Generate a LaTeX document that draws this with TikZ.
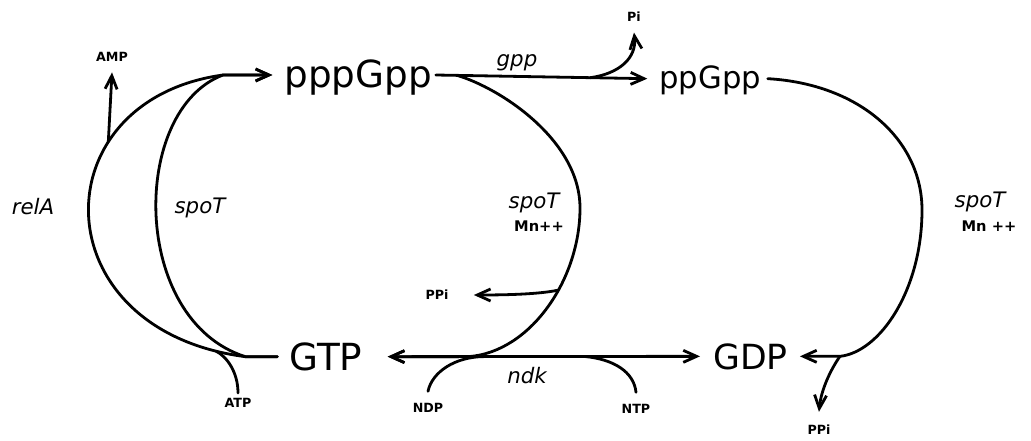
\documentclass[tikz,border=0pt]{standalone}
\usepackage{fontspec}
\setmainfont{DejaVu Sans}
\usetikzlibrary{arrows.meta}

\begin{document}
\begin{tikzpicture}[x=0.75pt, y=-0.75pt, line width=2.1pt, line cap=round, line join=round,
  barb/.tip={Straight Barb[length=10pt,width=9pt]},
  flow/.style={-barb},
  mol/.style={anchor=base west, inner sep=0pt, text depth=0pt},
  enz/.style={inner sep=0pt, font=\fontsize{16}{18}\selectfont\itshape},
  ion/.style={inner sep=0pt, font=\fontsize{11}{12}\selectfont\bfseries},
  side/.style={inner sep=0pt, font=\fontsize{9.5}{10}\selectfont\bfseries}]
\useasboundingbox (0,0) rectangle (1031,440);

% nucleotides (text height sets where west/east anchors sit)
\node[mol, text height=18pt, font=\fontsize{28}{30}\selectfont] (pppgpp) at (283,87) {pppGpp};
\node[mol, text height=14pt, font=\fontsize{23}{26}\selectfont] (ppgpp) at (658,88) {ppGpp};
\node[mol, text height=20pt, font=\fontsize{28}{30}\selectfont] (gtp) at (288,370) {GTP};
\node[mol, text height=19pt, font=\fontsize{26}{28}\selectfont] (gdp) at (712,369) {GDP};

% side products and co-substrates
\node[side] (amp) at (112,57) {AMP};
\node[side] (pi) at (634,17) {Pi};
\node[side] (ppia) at (437,295) {PPi};
\node[side] (atp) at (238,403) {ATP};
\node[side] (ndp) at (428,408) {NDP};
\node[side] (ntp) at (636,409) {NTP};
\node[side] (ppib) at (819,430) {PPi};

% enzyme labels
\node[enz] (rela) at (33,207) {relA};
\node[enz] (spota) at (200,208) {spoT};
\node[enz] (spotb) at (534,203) {spoT};
\node[ion] (mna) at (539,226) {Mn++};
\node[enz] (spotc) at (980,202) {spoT};
\node[ion] (mnb) at (989,226) {Mn ++};
\node[enz] (gppl) at (517,63) {gpp};
\node[enz] (ndkl) at (527,376) {ndk};

% gpp: pppGpp -> ppGpp
\draw[flow] ([xshift=2pt]pppgpp.east) -- coordinate[pos=0.1] (gppfork)
  coordinate[pos=0.73] (pifork) ([xshift=-8pt]ppgpp.west);
\draw[flow] (pifork) .. controls ([xshift=22pt,yshift=3pt]pifork) and
  ([xshift=35pt,yshift=15pt]pifork) .. ([yshift=-7pt]pi.south);

% ndk: GTP <-> GDP
\draw[barb-barb] ([xshift=18pt]gtp.east) -- coordinate[pos=0.26] (merge)
  coordinate[pos=0.31] (ndpfork) coordinate[pos=0.63] (ntpfork) ([xshift=-9pt]gdp.west);
\draw (ndpfork) .. controls ([xshift=-22pt]ndpfork) and (432,372) .. ([yshift=8pt]ndp.north);
\draw (ntpfork) .. controls ([xshift=22pt,yshift=-2pt]ntpfork) and (634,372) .. ([yshift=8pt]ntp.north);

% relA: GTP -> pppGpp
\draw[flow] ([xshift=-8pt]gtp.west) -- ([xshift=-32pt]gtp.west)
  .. controls (40,330) and (40,100) .. coordinate[pos=0.05] (atpfork)
  coordinate[pos=0.7] (ampfork) ([xshift=-45pt]pppgpp.west) -- ([xshift=-8pt]pppgpp.west);
% spoT: GTP -> pppGpp
\draw[flow] ([xshift=-8pt]gtp.west) -- ([xshift=-32pt]gtp.west)
  .. controls (130,320) and (130,110) .. ([xshift=-45pt]pppgpp.west) -- ([xshift=-8pt]pppgpp.west);
\draw[flow] (ampfork) -- ([yshift=-7pt]amp.south);
\draw (atpfork) .. controls ([xshift=8pt,yshift=-4pt]atpfork) and (238,372) .. ([yshift=3pt]atp.north);

% spoT (Mn++): pppGpp -> GTP
\draw[flow] (gppfork) .. controls (500,88) and (580,140) .. (580,208)
  .. controls (580,280) and (530,352) .. coordinate[pos=0.4] (ppifork) (merge)
  -- ([xshift=18pt]gtp.east);
\draw[flow] (ppifork) .. controls (540,294) and (510,295) .. ([xshift=18pt]ppia.east);

% spoT (Mn++): ppGpp -> GDP
\draw[flow] ([xshift=4pt]ppgpp.east) .. controls (860,84) and (922,140) .. (922,210)
  .. controls (922,290) and (880,352) .. coordinate[pos=1] (gdpfork)
  ([xshift=38pt]gdp.east) -- ([xshift=8pt]gdp.east);
\draw[flow] (gdpfork) .. controls ([xshift=-7pt,yshift=-10pt]gdpfork) and (821,390)
  .. ([yshift=9pt]ppib.north);
\end{tikzpicture}
\end{document}
